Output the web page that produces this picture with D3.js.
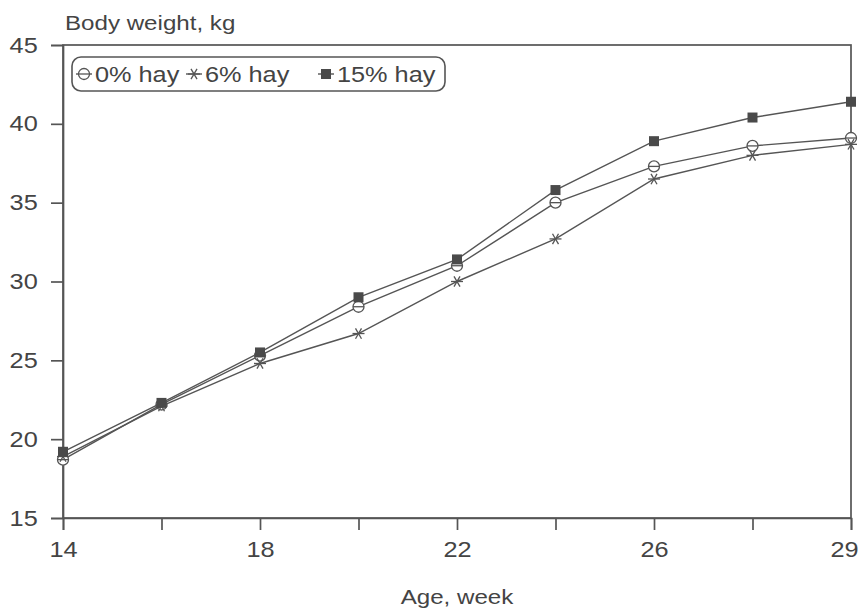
<!DOCTYPE html>
<html>
<head>
<meta charset="utf-8">
<script src="https://cdn.jsdelivr.net/npm/d3@7"></script>
<style>
  body { margin: 0; background: #fff; }
  text { font-family: "Liberation Sans", Arial, sans-serif; fill: #444; }
</style>
</head>
<body>
<div id="chart"></div>
<script>
const width = 863
const height = 610
const margin = { top: 45, right: 12, bottom: 92, left: 63 }

// Datos
const weeks = [14, 16, 18, 20, 22, 24, 26, 28, 29]
const weekLabels = ["14", "", "18", "", "22", "", "26", "", "29"]
const hay0 = [18.7, 22.2, 25.3, 28.4, 31.0, 35.0, 37.3, 38.6, 39.1]
const hay6 = [18.9, 22.1, 24.8, 26.7, 30.0, 32.7, 36.5, 38.0, 38.7]
const hay15 = [19.2, 22.3, 25.5, 29.0, 31.4, 35.8, 38.9, 40.4, 41.4]
const seriesNames = ["0% hay", "6% hay", "15% hay"]
const yTicks = [15, 20, 25, 30, 35, 40, 45]

const ink = "#555"
const stretch = 1.15

const svg = d3.select("#chart")
  .append("svg")
  .attr("width", width)
  .attr("height", height)

// Escalas
const x = d3.scalePoint().domain(weeks).range([margin.left, width - margin.right])
const y = d3.scaleLinear().domain([15, 45]).range([height - margin.bottom, margin.top])

// Marco
svg.append("rect")
  .attr("x", x(14)).attr("y", y(45))
  .attr("width", x(29) - x(14)).attr("height", y(15) - y(45))
  .attr("fill", "none").attr("stroke", ink).attr("stroke-width", 1.7)

// Ejes
const xAxis = d3.axisBottom(x).tickSize(12).tickPadding(8)
  .tickFormat((d, i) => weekLabels[i])
const yAxis = d3.axisLeft(y).tickValues(yTicks).tickSize(12).tickPadding(10)

const xAxisGroup = svg.append("g")
  .attr("transform", `translate(0, ${y(15)})`)
  .call(xAxis)
const yAxisGroup = svg.append("g")
  .attr("transform", `translate(${x(14)}, 0)`)
  .call(yAxis)

;[xAxisGroup, yAxisGroup].forEach(g => {
  g.select(".domain").attr("stroke", ink).attr("stroke-width", 1.7)
  g.selectAll(".tick line").attr("stroke", ink).attr("stroke-width", 1.7)
  g.selectAll(".tick text")
    .attr("font-size", 22)
    .attr("fill", "#444")
    .style("font-family", "Liberation Sans, Arial, sans-serif")
    .attr("transform", `scale(${stretch},1)`)
})
xAxisGroup.selectAll(".tick text").attr("dy", "0.85em")
// el último rótulo queda pegado al borde, como en el original
xAxisGroup.selectAll(".tick text").filter(d => d === 29).attr("x", -6)

// Etiquetas de los ejes
svg.append("text")
  .attr("transform", `translate(65, 30) scale(${stretch},1)`)
  .attr("font-size", 21)
  .text("Body weight, kg")

svg.append("text")
  .attr("transform", `translate(${(x(14) + x(29)) / 2}, 604) scale(${stretch},1)`)
  .attr("text-anchor", "middle")
  .attr("font-size", 21)
  .text("Age, week")

// Marcadores
function drawMarker(g, type, cx, cy) {
  if (type === 0) {
    g.append("circle").attr("cx", cx).attr("cy", cy).attr("r", 5.5)
      .attr("fill", "#fff").attr("stroke", ink).attr("stroke-width", 1.3)
    g.append("line").attr("x1", cx - 5.5).attr("x2", cx + 5.5).attr("y1", cy).attr("y2", cy)
      .attr("stroke", ink).attr("stroke-width", 1.3)
  } else if (type === 1) {
    const r = 6
    ;[0, 60, 120].forEach(a => {
      const rad = a * Math.PI / 180
      g.append("line")
        .attr("x1", cx - r * Math.cos(rad)).attr("y1", cy - r * Math.sin(rad))
        .attr("x2", cx + r * Math.cos(rad)).attr("y2", cy + r * Math.sin(rad))
        .attr("stroke", ink).attr("stroke-width", 1.3)
    })
  } else {
    g.append("rect").attr("x", cx - 5).attr("y", cy - 5).attr("width", 10).attr("height", 10)
      .attr("fill", "#4a4a4a")
  }
}

const line = d3.line()
  .x((d, i) => x(weeks[i]))
  .y(d => y(d))

const allSeries = [hay0, hay6, hay15]
allSeries.forEach((values, s) => {
  const g = svg.append("g")
  g.append("path")
    .datum(values)
    .attr("fill", "none")
    .attr("stroke", ink)
    .attr("stroke-width", 1.4)
    .attr("d", line)
  values.forEach((v, i) => drawMarker(g, s, x(weeks[i]), y(v)))
})

// Leyenda
const legend = svg.append("g")
legend.append("rect")
  .attr("x", 72).attr("y", 57).attr("width", 373).attr("height", 34)
  .attr("rx", 9)
  .attr("fill", "#fff").attr("stroke", ink).attr("stroke-width", 1.6)

const legendX = [76, 186, 318]
seriesNames.forEach((name, s) => {
  const lx = legendX[s]
  legend.append("line")
    .attr("x1", lx).attr("x2", lx + 16).attr("y1", 74).attr("y2", 74)
    .attr("stroke", ink).attr("stroke-width", 1.4)
  drawMarker(legend, s, lx + 8, 74)
  legend.append("text")
    .attr("transform", `translate(${lx + 19}, 82) scale(${stretch},1)`)
    .attr("font-size", 22)
    .text(name)
})
</script>
</body>
</html>
